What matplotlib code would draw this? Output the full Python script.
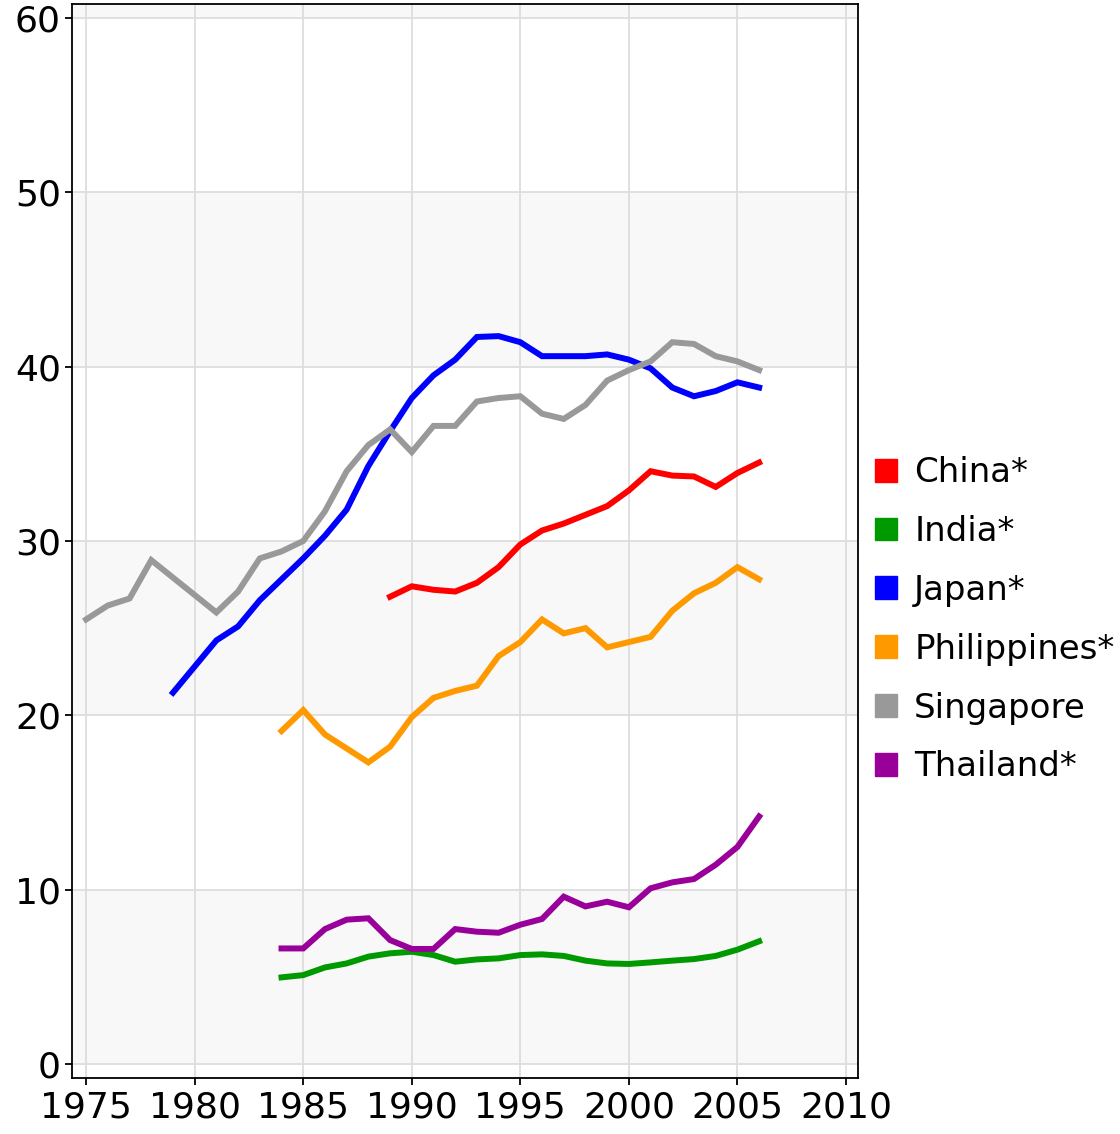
import matplotlib
matplotlib.use("Agg")
import matplotlib.pyplot as plt
from matplotlib.patches import Patch

# ---- data ----
years_singapore = list(range(1975, 2007))
singapore = [25.5, 26.3, 26.7, 28.9, 27.9, 26.9, 25.9, 27.1, 29.0, 29.4, 30.0, 31.7,
             34.0, 35.5, 36.4, 35.1, 36.6, 36.6, 38.0, 38.2, 38.3, 37.3, 37.0, 37.8,
             39.2, 39.8, 40.3, 41.4, 41.3, 40.6, 40.3, 39.8]

years_japan = list(range(1979, 2007))
japan = [21.3, 22.8, 24.3, 25.1, 26.6, 27.8, 29.0, 30.3, 31.8, 34.3, 36.3, 38.2,
         39.5, 40.4, 41.7, 41.75, 41.4, 40.6, 40.6, 40.6, 40.7, 40.4, 39.9, 38.8,
         38.3, 38.6, 39.1, 38.8]

years_china = list(range(1989, 2007))
china = [26.8, 27.4, 27.2, 27.1, 27.6, 28.5, 29.8, 30.6, 31.0, 31.5, 32.0, 32.9,
         34.0, 33.75, 33.7, 33.1, 33.9, 34.5]

years_1984 = list(range(1984, 2007))
philippines = [19.1, 20.3, 18.9, 18.1, 17.3, 18.2, 19.9, 21.0, 21.4, 21.7, 23.4, 24.2,
               25.5, 24.7, 25.0, 23.9, 24.2, 24.5, 26.0, 27.0, 27.6, 28.5, 27.8]
thailand = [6.63, 6.63, 7.74, 8.28, 8.36, 7.11, 6.6, 6.6, 7.74, 7.59, 7.53, 7.99,
            8.32, 9.6, 9.04, 9.31, 8.99, 10.08, 10.42, 10.61, 11.43, 12.45, 14.2]
india = [4.97, 5.1, 5.54, 5.77, 6.16, 6.35, 6.44, 6.25, 5.87, 6.0, 6.06, 6.25,
         6.29, 6.2, 5.93, 5.77, 5.74, 5.83, 5.93, 6.02, 6.2, 6.56, 7.04]

labels = ["China*", "India*", "Japan*", "Philippines*", "Singapore", "Thailand*"]
colors = ["#ff0000", "#009900", "#0000ff", "#ff9900", "#999999", "#990099"]

x_ticks = [1975, 1980, 1985, 1990, 1995, 2000, 2005, 2010]
y_ticks = [0, 10, 20, 30, 40, 50, 60]

# ---- figure ----
fig = plt.figure(figsize=(11.2, 11.34), dpi=100)
ax = fig.add_axes([0.0643, 0.0494, 0.7017, 0.9471])

ax.set_xlim(1974.35, 2010.55)
ax.set_ylim(-0.8, 60.8)

# alternating bands
band = "#f8f8f8"
ax.axhspan(0, 10, color=band, zorder=0, lw=0)
ax.axhspan(20, 30, color=band, zorder=0, lw=0)
ax.axhspan(40, 50, color=band, zorder=0, lw=0)
ax.axhspan(60, 70, color=band, zorder=0, lw=0)

ax.set_xticks(x_ticks)
ax.set_yticks(y_ticks)
ax.grid(True, color="#dddddd", lw=1.3, zorder=1)
ax.set_axisbelow(True)

series = [
    (years_china, china),
    (years_1984, india),
    (years_japan, japan),
    (years_1984, philippines),
    (years_singapore, singapore),
    (years_1984, thailand),
]
for (xs, ys), c in zip(series, colors):
    ax.plot(xs, ys, color=c, lw=4.3, solid_joinstyle="miter", zorder=3)

for s in ax.spines.values():
    s.set_color("black")
    s.set_linewidth(1.3)

ax.tick_params(axis="both", labelsize=26, direction="out", length=5, width=1.3,
               colors="black")
ax.tick_params(axis="x", pad=4)
ax.tick_params(axis="y", pad=3)

handles = [Patch(facecolor=c, edgecolor=c) for c in colors]
fig.legend(handles, labels, loc="center left", bbox_to_anchor=(0.781, 0.4535),
           frameon=False, fontsize=24.5, handlelength=0.66, handleheight=0.66,
           handletextpad=0.5, labelspacing=0.76, borderpad=0, borderaxespad=0)

fig.savefig("out.png", dpi=100)
